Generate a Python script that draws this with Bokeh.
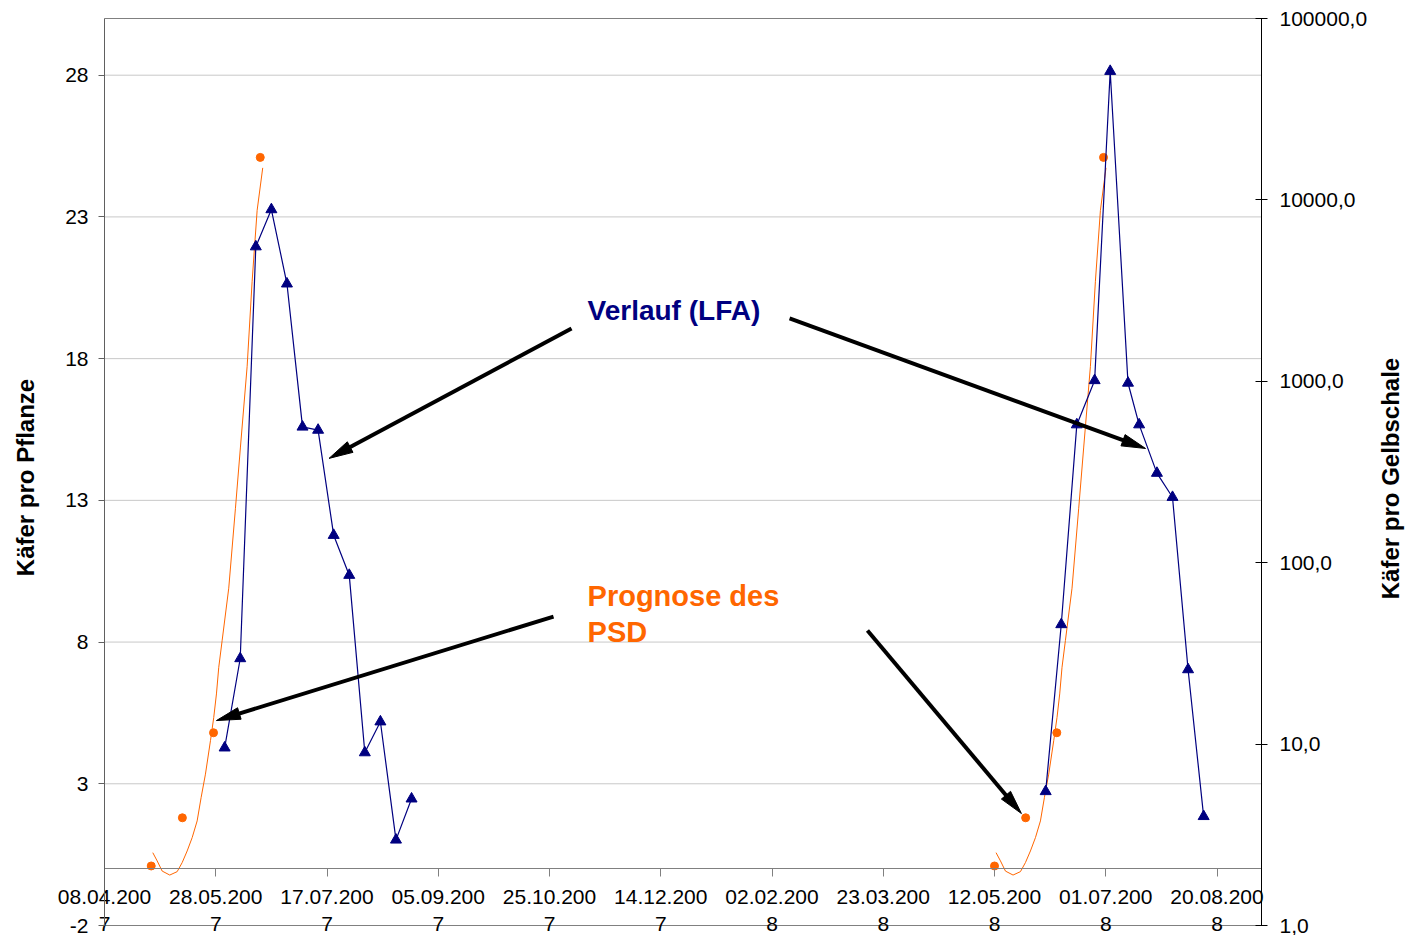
import math
import pandas as pd
from bokeh.plotting import figure
from bokeh.models import (Range1d, LinearAxis, LogAxis, LogScale, FixedTicker, Label)
from bokeh.embed import file_html
from bokeh.resources import INLINE

# ---------------- data ----------------
axis_start = "08.04.2007"
axis_end = "09.09.2008"
x_tick_labels = ["08.04.2007", "28.05.2007", "17.07.2007", "05.09.2007", "25.10.2007",
                 "14.12.2007", "02.02.2008", "23.03.2008", "12.05.2008", "01.07.2008",
                 "20.08.2008"]

left_ticks = [-2, 3, 8, 13, 18, 23, 28]
left_tick_labels = ["-2", "3", "8", "13", "18", "23", "28"]
left_min, left_max = -2, 30
right_ticks = [1, 10, 100, 1000, 10000, 100000]
right_tick_labels = ["1,0", "10,0", "100,0", "1000,0", "10000,0", "100000,0"]
right_min, right_max = 1, 100000

# Verlauf (LFA)
lfa_2007_dates = ["01.06.2007", "08.06.2007", "15.06.2007", "22.06.2007", "29.06.2007",
                  "06.07.2007", "13.07.2007", "20.07.2007", "27.07.2007", "03.08.2007",
                  "10.08.2007", "17.08.2007", "24.08.2007"]
lfa_2007_values = [4.27, 7.42, 21.95, 23.26, 20.64, 15.59, 15.48, 11.77, 10.36, 4.10,
                   5.19, 1.02, 2.47]
lfa_2008_dates = ["04.06.2008", "11.06.2008", "18.06.2008", "26.06.2008", "03.07.2008",
                  "11.07.2008", "16.07.2008", "24.07.2008", "31.07.2008", "07.08.2008",
                  "14.08.2008"]
lfa_2008_values = [2.73, 8.62, 15.67, 17.23, 28.14, 17.14, 15.67, 13.96, 13.11, 7.03, 1.85]

# Prognose des PSD (points)
psd_2007_dates = ["29.04.2007", "13.05.2007", "27.05.2007", "17.06.2007"]
psd_2008_dates = ["12.05.2008", "26.05.2008", "09.06.2008", "30.06.2008"]
psd_values = [0.1, 1.8, 4.8, 25.1]

# Prognose curve: days after the first forecast date, value
psd_curve_days = [0.70, 2.67, 4.92, 8.33, 11.66, 13.91, 16.15, 18.40, 20.64, 22.44, 24.37,
                  26.62, 28.10, 29.31, 30.35, 31.88, 34.84, 37.85, 40.10, 43.11, 45.35,
                  47.60, 50.11]
psd_curve_values = [0.57, 0.28, -0.08, -0.22, -0.10, 0.22, 0.63, 1.10, 1.69, 2.52, 3.34,
                    4.52, 5.34, 6.17, 7.11, 8.06, 9.90, 12.72, 14.88, 17.73, 20.73,
                    23.23, 24.73]

# ---------------- helpers ----------------
T0 = pd.to_datetime(axis_start, format="%d.%m.%Y")


def to_days(dates):
    return [(pd.to_datetime(d, format="%d.%m.%Y") - T0).days for d in dates]


x_end = to_days([axis_end])[0]
x_ticks = to_days(x_tick_labels)

# ---------------- layout (pixels) ----------------
W, H = 1406, 935
PL, PR, PT, PB = 104, 145, 18, 10          # plot-area margins inside the canvas
PW, PH = W - PL - PR, H - PT - PB
sx = PW / (x_end - 0)                       # px per day
sy = PH / (left_max - left_min)             # px per left unit
dec_px = PH / math.log10(right_max / right_min)

FONT = "Liberation Sans"
NAVY = "#000080"
ORANGE = "#FF6600"
GRID = "#c8c8c8"
BORDER = "#808080"

p = figure(width=W, height=H,
           x_range=Range1d(-PL / sx, x_end + PR / sx),
           y_range=Range1d(left_min - PB / sy, left_max + PT / sy),
           x_axis_location=None, y_axis_location=None,
           output_backend="svg", toolbar_location=None,
           min_border_left=0, min_border_right=0, min_border_top=0, min_border_bottom=0)
p.background_fill_color = "white"
p.border_fill_color = "white"
p.outline_line_color = None
p.xgrid.visible = False
p.ygrid.visible = False

# gridlines and plot-area border
gy = [t for t in left_ticks if t > left_min]
p.segment(x0=[0] * len(gy), x1=[x_end] * len(gy), y0=gy, y1=gy,
          line_color=GRID, line_width=1)
p.segment(x0=[0, 0], x1=[x_end, x_end], y0=[left_min, left_max], y1=[left_min, left_max],
          line_color=BORDER, line_width=1)

# left value axis
ya = LinearAxis(fixed_location=0, bounds=(left_min, left_max),
                ticker=FixedTicker(ticks=left_ticks),
                major_label_overrides=dict(zip(left_ticks, left_tick_labels)))
ya.major_label_text_font = FONT
ya.major_label_text_font_size = "21px"
ya.major_label_text_color = "black"
ya.major_label_standoff = 10
ya.major_tick_out = 6
ya.major_tick_in = 0
ya.minor_tick_line_color = None
ya.axis_line_color = "#606060"
ya.major_tick_line_color = "#606060"
p.add_layout(ya, "left")

# right logarithmic axis
p.extra_y_ranges = {"gelb": Range1d(right_min / 10 ** (PB / dec_px),
                                    right_max * 10 ** (PT / dec_px))}
p.extra_y_scales = {"gelb": LogScale()}
ra = LogAxis(y_range_name="gelb", fixed_location=x_end, bounds=(right_min, right_max),
             ticker=FixedTicker(ticks=right_ticks),
             major_label_overrides=dict(zip(right_ticks, right_tick_labels)))
ra.major_label_text_font = FONT
ra.major_label_text_font_size = "21px"
ra.major_label_text_color = "black"
ra.major_label_standoff = 12
ra.major_tick_out = 6
ra.major_tick_in = 6
ra.minor_tick_line_color = None
ra.axis_line_color = "black"
ra.major_tick_line_color = "black"
p.add_layout(ra, "right")

# date axis crossing the value axis at 0
xa = LinearAxis(fixed_location=0, bounds=(0, x_end), ticker=FixedTicker(ticks=x_ticks),
                major_label_overrides={t: s[:-1] + "\n" + s[-1]
                                       for t, s in zip(x_ticks, x_tick_labels)})
xa.axis_line_color = BORDER
xa.major_tick_line_color = BORDER
xa.major_tick_out = 8
xa.major_tick_in = 0
xa.minor_tick_line_color = None
xa.major_label_text_font = FONT
xa.major_label_text_font_size = "21px"
xa.major_label_text_color = "black"
xa.major_label_standoff = 8
p.add_layout(xa, "below")

# axis titles
p.add_layout(Label(x=(25 - PL) / sx, y=left_max - (477 - PT) / sy, text="Käfer pro Pflanze",
                   angle=math.pi / 2, text_font=FONT, text_font_size="24px",
                   text_font_style="bold", text_color="black",
                   text_align="center", text_baseline="middle"))
p.add_layout(Label(x=x_end + (1390 - PL - PW) / sx, y=left_max - (478 - PT) / sy,
                   text="Käfer pro Gelbschale",
                   angle=math.pi / 2, text_font=FONT, text_font_size="24px",
                   text_font_style="bold", text_color="black",
                   text_align="center", text_baseline="middle"))

# ---------------- series ----------------
for dates, vals in ((psd_2007_dates, psd_values), (psd_2008_dates, psd_values)):
    d = to_days(dates)
    cx = [d[0] + c for c in psd_curve_days]
    p.line(cx, psd_curve_values, line_color=ORANGE, line_width=1)
    p.scatter(d, vals, marker="circle", size=8, fill_color=ORANGE, line_color=ORANGE)

for dates, vals in ((lfa_2007_dates, lfa_2007_values), (lfa_2008_dates, lfa_2008_values)):
    d = to_days(dates)
    p.line(d, vals, line_color=NAVY, line_width=1.2)
    p.scatter(d, vals, marker="triangle", size=11, fill_color=NAVY, line_color=NAVY)

# ---------------- annotations ----------------
arrows = [((209.9, 19.06), (100.9, 14.48)),
          ((307.9, 19.42), (467.9, 14.83)),
          ((201.8, 8.90), (50.3, 5.23)),
          ((342.9, 8.41), (412.1, 1.95))]
head_len, head_half = 24, 6
for (x0, y0), (x1, y1) in arrows:
    dx, dy = (x1 - x0) * sx, (y1 - y0) * sy
    L = math.hypot(dx, dy)
    ux, uy = dx / L, dy / L
    bx, by = x1 - ux * head_len / sx, y1 - uy * head_len / sy
    p.line([x0, bx + ux * 2 / sx], [y0, by + uy * 2 / sy], line_color="black", line_width=4)
    px_ = [x1, bx - uy * head_half / sx, bx + uy * head_half / sx]
    py_ = [y1, by + ux * head_half / sy, by - ux * head_half / sy]
    p.patch(px_, py_, fill_color="black", line_color="black", line_width=1)

p.add_layout(Label(x=217.1, y=19.70, text="Verlauf (LFA)", text_font=FONT,
                   text_font_size="28px", text_font_style="bold", text_color=NAVY,
                   text_align="left", text_baseline="middle"))
p.add_layout(Label(x=217.1, y=9.61, text="Prognose des", text_font=FONT,
                   text_font_size="29px", text_font_style="bold", text_color=ORANGE,
                   text_align="left", text_baseline="middle"))
p.add_layout(Label(x=217.1, y=8.37, text="PSD", text_font=FONT,
                   text_font_size="29px", text_font_style="bold", text_color=ORANGE,
                   text_align="left", text_baseline="middle"))

open("out.html", "w").write(file_html(p, INLINE))
